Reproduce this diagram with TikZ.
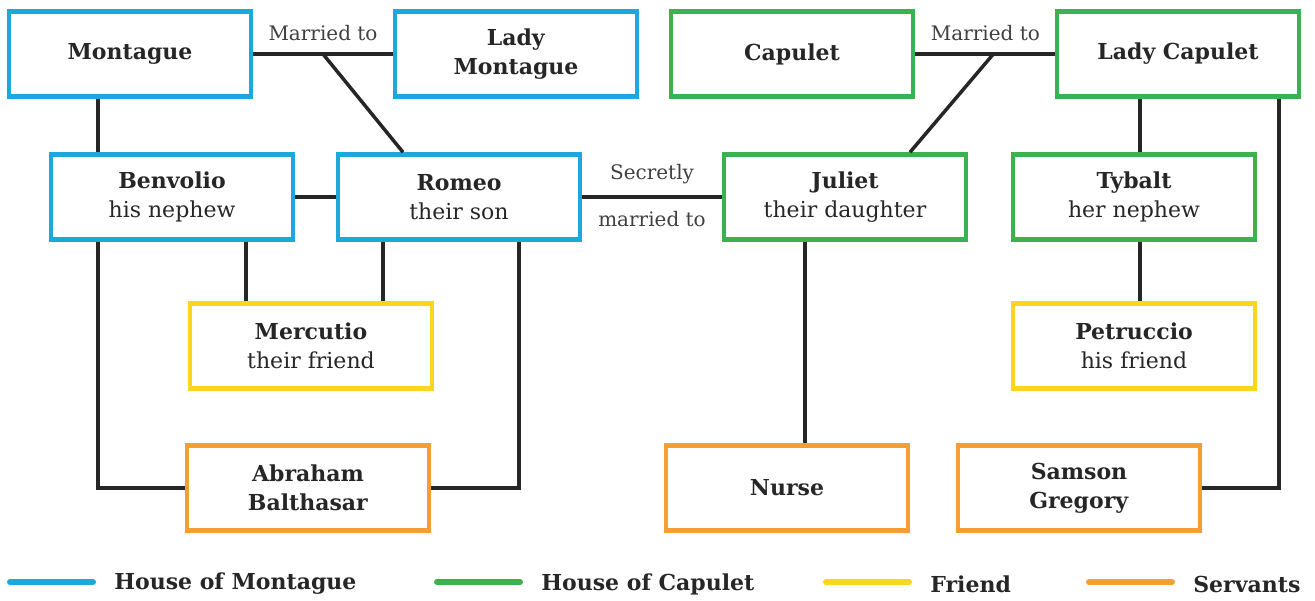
\documentclass[tikz,border=0pt]{standalone}
\usepackage{fontspec}
\setmainfont{DejaVu Serif}
\usepackage{xcolor}
\definecolor{montblue}{RGB}{28,168,220}
\definecolor{capgreen}{RGB}{58,178,80}
\definecolor{friendyel}{RGB}{250,214,30}
\definecolor{servorange}{RGB}{245,158,50}
\usepackage{tikz}
\tikzstyle{person} = [draw, line width=4.5pt, minimum width=242pt, minimum height=85pt, align=center, inner sep=2pt, font=\fontsize{22}{29}\selectfont, text=black!85]
\tikzstyle{montague} = [person, draw=montblue]
\tikzstyle{capulet} = [person, draw=capgreen]
\tikzstyle{friend} = [person, draw=friendyel]
\tikzstyle{servant} = [person, draw=servorange]
\tikzstyle{link} = [line width=3.5pt, draw=black!85]
\tikzstyle{lbl} = [font=\fontsize{20}{22}\selectfont, text=black!75]
\tikzstyle{key} = [line width=6pt, line cap=round]
\tikzstyle{keytext} = [anchor=west, font=\bfseries\fontsize{22}{26}\selectfont, text=black!85]

\begin{document}
\begin{tikzpicture}[x=1pt,y=-1pt]
    \useasboundingbox (0,0) rectangle (1315,601);
    % the two houses
    \node[montague] (mont)   at (130,54)  {\textbf{Montague}};
    \node[montague] (ladym)  at (516,54)  {\textbf{Lady}\\\textbf{Montague}};
    \node[capulet]  (cap)    at (792,54)  {\textbf{Capulet}};
    \node[capulet]  (ladyc)  at (1178,54) {\textbf{Lady Capulet}};
    \node[montague] (benv)   at (172,197) {\textbf{Benvolio}\\his nephew};
    \node[montague] (romeo)  at (459,197) {\textbf{Romeo}\\their son};
    \node[capulet]  (juliet) at (845,197) {\textbf{Juliet}\\their daughter};
    \node[capulet]  (tybalt) at (1134,197) {\textbf{Tybalt}\\her nephew};
    \node[friend]   (merc)   at (311,346) {\textbf{Mercutio}\\their friend};
    \node[friend]   (petr)   at (1134,346) {\textbf{Petruccio}\\his friend};
    \node[servant]  (abra)   at (308,488) {\textbf{Abraham}\\\textbf{Balthasar}};
    \node[servant]  (nurse)  at (787,488) {\textbf{Nurse}};
    \node[servant]  (samson) at (1079,488) {\textbf{Samson}\\\textbf{Gregory}};

    % marriages
    \draw[link] (mont.east) -- (ladym.west) coordinate[pos=0.5] (mj);
    \node[lbl] (mjlbl) at ([yshift=21pt]mj) {Married to};
    \draw[link] (mj) -- ([xshift=-56pt]romeo.north);
    \draw[link] (cap.east) -- (ladyc.west) coordinate[pos=0.56] (cj);
    \node[lbl] (cjlbl) at ([yshift=21pt,xshift=-8pt]cj) {Married to};
    \draw[link] (cj) -- ([xshift=65pt]juliet.north);
    \draw[link] (romeo.east) -- (juliet.west) coordinate[pos=0.5] (rj);
    \node[lbl] (rjtop) at ([yshift=23pt]rj) {Secretly};
    \node[lbl] (rjbot) at ([yshift=-22pt]rj) {married to};

    % family and friends
    \draw[link] (benv.east) -- (romeo.west);
    \draw[link] ([xshift=-74pt]benv.north) coordinate (b1) -- (b1 |- mont.south);
    \draw[link] ([xshift=74pt]benv.south) coordinate (b2) -- (b2 |- merc.north);
    \draw[link] ([xshift=-76pt]romeo.south) coordinate (r1) -- (r1 |- merc.north);
    \draw[link] ([xshift=-38pt]ladyc.south) coordinate (l1) -- (l1 |- tybalt.north);
    \draw[link] ([xshift=6pt]tybalt.south) coordinate (t1) -- (t1 |- petr.north);

    % servants
    \draw[link] ([xshift=-74pt]benv.south) |- (abra.west);
    \draw[link] ([xshift=60pt]romeo.south) |- (abra.east);
    \draw[link] ([xshift=-40pt]juliet.south) coordinate (j1) -- (j1 |- nurse.north);
    \draw[link] ([xshift=101pt]ladyc.south) |- (samson.east);

    % key
    \foreach \x/\col/\txt in {10/montblue/House of Montague, 437/capgreen/House of Capulet, 826/friendyel/Friend, 1089/servorange/Servants} {
        \draw[key, draw=\col] (\x,582) -- ++(83,0) node[keytext, xshift=15pt, yshift=-2pt] (key-\col) {\txt};
    }
\end{tikzpicture}
\end{document}
